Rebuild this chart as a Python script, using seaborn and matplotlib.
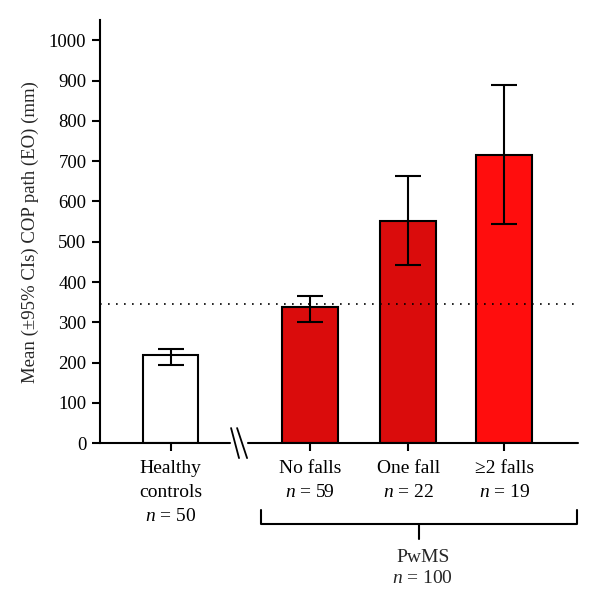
import numpy as np
import pandas as pd
import seaborn as sns
import matplotlib.pyplot as plt
import matplotlib.transforms as mtransforms

# values (mm)
groups = ['Healthy controls', 'No falls', 'One fall', '≥2 falls']
tick_labels = ['Healthy\ncontrols\n$n$ = 50', 'No falls\n$n$ = 59',
               'One fall\n$n$ = 22', '≥2 falls\n$n$ = 19']
means = [218, 337, 551, 716]
ci_low = [193, 301, 443, 545]
ci_high = [235, 366, 662, 888]
ref_line = 346
pwms_label = 'PwMS\n$n$ = 100'

# layout
x_pos = [0, 1.44, 2.45, 3.44]
bar_colors = ['white', '#DA0C0C', '#DA0C0C', '#FF0D0D']

sns.set_style("ticks")
plt.rcParams['font.family'] = ['Liberation Serif', 'DejaVu Serif']
plt.rcParams['mathtext.fontset'] = 'custom'
plt.rcParams['mathtext.rm'] = 'Liberation Serif'
plt.rcParams['mathtext.it'] = 'Liberation Serif:italic'

df = pd.DataFrame({'group': groups, 'x': x_pos, 'mean': means})

fig = plt.figure(figsize=(6, 6.08), dpi=100)
ax = fig.add_axes([0.166, 0.2709, 0.797, 0.6961])

sns.barplot(data=df, x='x', y='mean', hue='group', palette=bar_colors,
            native_scale=True, width=0.578, dodge=False, errorbar=None,
            saturation=1, edgecolor='black', linewidth=1.5, legend=False, ax=ax)

m = np.array(means)
yerr = [m - np.array(ci_low), np.array(ci_high) - m]
ax.errorbar(x_pos, means, yerr=yerr, fmt='none', ecolor='black',
            elinewidth=1.5, capsize=9.4, capthick=1.5, zorder=4)

x_left, x_right = -0.732, 4.20
ax.plot([x_left, x_right], [ref_line, ref_line], color='black', lw=1.2,
        dashes=(1, 3.8), zorder=5)

ax.set_xlim(x_left, x_right)
ax.set_ylim(0, 1050)
ax.set_yticks(range(0, 1001, 100))
ax.set_xticks(x_pos, tick_labels, linespacing=1.55)
ax.tick_params(axis='both', direction='out', length=6, width=1.5,
               labelsize=13.5, color='black', labelcolor='black')
ax.tick_params(axis='x', pad=6, labelsize=14)
ax.set_xlabel('')
ax.set_ylabel('Mean (±95% CIs) COP path (EO) (mm)', fontsize=13.5, labelpad=7)

for s in ['top', 'right', 'bottom']:
    ax.spines[s].set_visible(False)
ax.spines['left'].set_linewidth(1.5)
ax.spines['left'].set_color('black')

# broken x axis
trans = mtransforms.blended_transform_factory(ax.transData, ax.transAxes)
ax.plot([x_left, 0.613], [0, 0], transform=trans, color='black', lw=1.5, clip_on=False)
ax.plot([0.799, x_right], [0, 0], transform=trans, color='black', lw=1.5, clip_on=False)
for x0, x1 in [(0.624, 0.706), (0.686, 0.789)]:
    ax.plot([x0, x1], [0.036, -0.035], transform=trans, color='black', lw=1.3,
            clip_on=False)

# PwMS bracket
ax.plot([0.933, 0.933, 4.19, 4.19], [-0.157, -0.191, -0.191, -0.157],
        transform=trans, color='black', lw=1.5, clip_on=False)
ax.plot([2.56, 2.56], [-0.191, -0.226], transform=trans, color='black', lw=1.5,
        clip_on=False)
ax.text(2.6, -0.250, pwms_label, transform=trans, ha='center', va='top',
        fontsize=14, linespacing=1.3)

fig.savefig('out.png', dpi=100)
